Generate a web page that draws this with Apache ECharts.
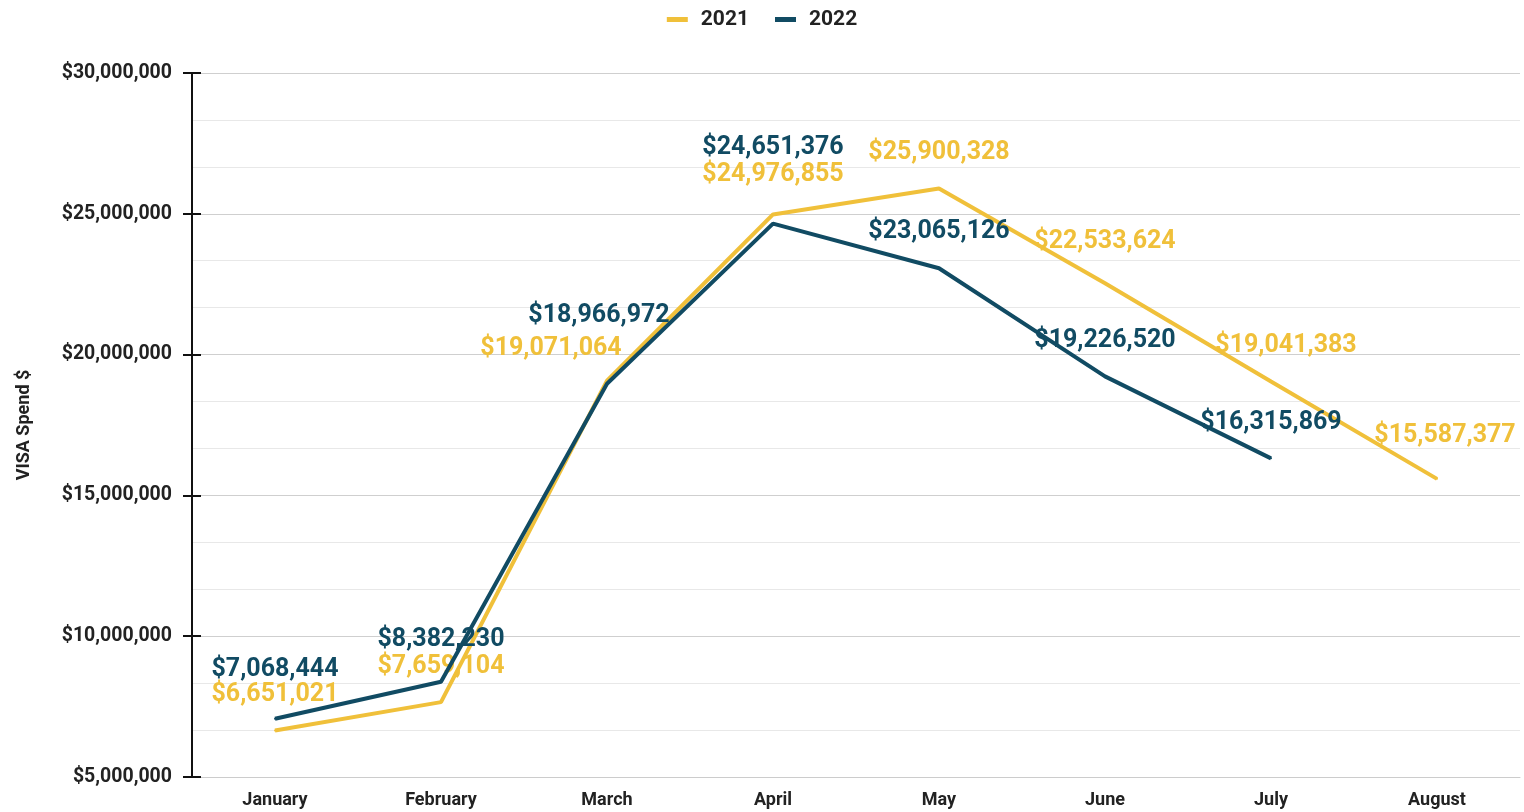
<!DOCTYPE html>
<html>
<head>
<meta charset="utf-8">
<title>VISA Spend 2021 vs 2022</title>
<script src="https://cdn.jsdelivr.net/npm/echarts@6/dist/echarts.min.js"></script>
<style>
  html, body { margin: 0; padding: 0; background: #fff; }
  #chart { width: 1524px; height: 812px; }
</style>
</head>
<body>
<div id="chart"></div>
<script>
// Monthly VISA spend, two years
const months = ['January', 'February', 'March', 'April', 'May', 'June', 'July', 'August'];
const spend2021 = [6651021, 7659104, 19071064, 24976855, 25900328, 22533624, 19041383, 15587377];
const spend2022 = [7068444, 8382230, 18966972, 24651376, 23065126, 19226520, 16315869];
const yTicks = [5000000, 10000000, 15000000, 20000000, 25000000, 30000000];

// label nudges [dx, dy] so overlapping value labels stay readable
const nudge2021 = [[0, 0], [0, 0], [-56, 3], [0, -4], [0, 0], [0, -6], [15, 0], [8, -8]];
const nudge2022 = [[0, -14], [0, -7], [-8, -32], [0, -40], [0, -1], [0, 0], [0, 0]];

const COLOR_2021 = '#f0c03a';
const COLOR_2022 = '#114b63';
const FONT = 'Roboto, "Noto Sans", sans-serif';

const money = v => '$' + Math.round(v).toLocaleString('en-US');

function lineSeries(name, values, nudges, color) {
  return {
    name: name,
    type: 'line',
    data: values,
    symbol: 'circle',
    symbolSize: 2,
    showSymbol: true,
    lineStyle: { color: color, width: 4 },
    itemStyle: { color: color },
    label: {
      show: true,
      position: 'top',
      distance: 22,
      color: color,
      fontFamily: FONT,
      fontSize: 25,
      fontWeight: 'bold',
      formatter: p => money(p.value)
    },
    labelLayout: function (params) {
      const n = nudges[params.dataIndex] || [0, 0];
      return { dx: n[0], dy: n[1], hideOverlap: false };
    },
    emphasis: { disabled: true },
    z: name === '2021' ? 3 : 4
  };
}

const chart = echarts.init(document.getElementById('chart'), null, { renderer: 'canvas' });

const yMin = yTicks[0];
const yMax = yTicks[yTicks.length - 1];
const yStep = yTicks[1] - yTicks[0];

chart.setOption({
  backgroundColor: '#ffffff',
  animation: false,
  legend: {
    top: 4,
    left: 'center',
    itemWidth: 21,
    itemHeight: 5,
    itemGap: 26,
    icon: 'rect',
    textStyle: {
      fontFamily: FONT, fontSize: 21, fontWeight: 'bold', color: '#222',
      padding: [0, 0, 0, 8]
    },
    data: ['2021', '2022']
  },
  grid: { left: 192, right: 4, top: 73, bottom: 35, containLabel: false },
  xAxis: {
    type: 'category',
    data: months,
    boundaryGap: true,
    axisLine: { show: true, lineStyle: { color: '#cccccc', width: 1 } },
    axisTick: { show: false },
    axisLabel: {
      fontFamily: FONT, fontSize: 18, fontWeight: 'bold', color: '#222', margin: 14
    },
    splitLine: { show: false }
  },
  yAxis: [
    {
      type: 'value',
      min: yMin,
      max: yMax,
      interval: yStep,
      name: 'VISA Spend $',
      nameLocation: 'middle',
      nameGap: 159,
      nameRotate: 90,
      nameTextStyle: { fontFamily: FONT, fontSize: 18, fontWeight: 'bold', color: '#222' },
      axisLine: { show: true, lineStyle: { color: '#111', width: 2 } },
      axisTick: { show: true, length: 9, lineStyle: { color: '#111', width: 2 } },
      axisLabel: {
        fontFamily: FONT, fontSize: 19.5, fontWeight: 'bold', color: '#222', margin: 20,
        formatter: v => money(v)
      },
      splitLine: { show: true, lineStyle: { color: '#cfcfcf', width: 1 } },
      minorTick: { show: false, splitNumber: 3 },
      minorSplitLine: { show: true, lineStyle: { color: '#e8e8e8', width: 1 } }
    },
    {
      // inner half of the tick marks, so they cross the axis line
      type: 'value',
      min: yMin,
      max: yMax,
      interval: yStep,
      position: 'left',
      axisLine: { show: false },
      axisTick: { show: true, inside: true, length: 9, lineStyle: { color: '#111', width: 2 } },
      axisLabel: { show: false },
      splitLine: { show: false }
    }
  ],
  series: [
    lineSeries('2021', spend2021, nudge2021, COLOR_2021),
    lineSeries('2022', spend2022, nudge2022, COLOR_2022)
  ]
});
</script>
</body>
</html>
